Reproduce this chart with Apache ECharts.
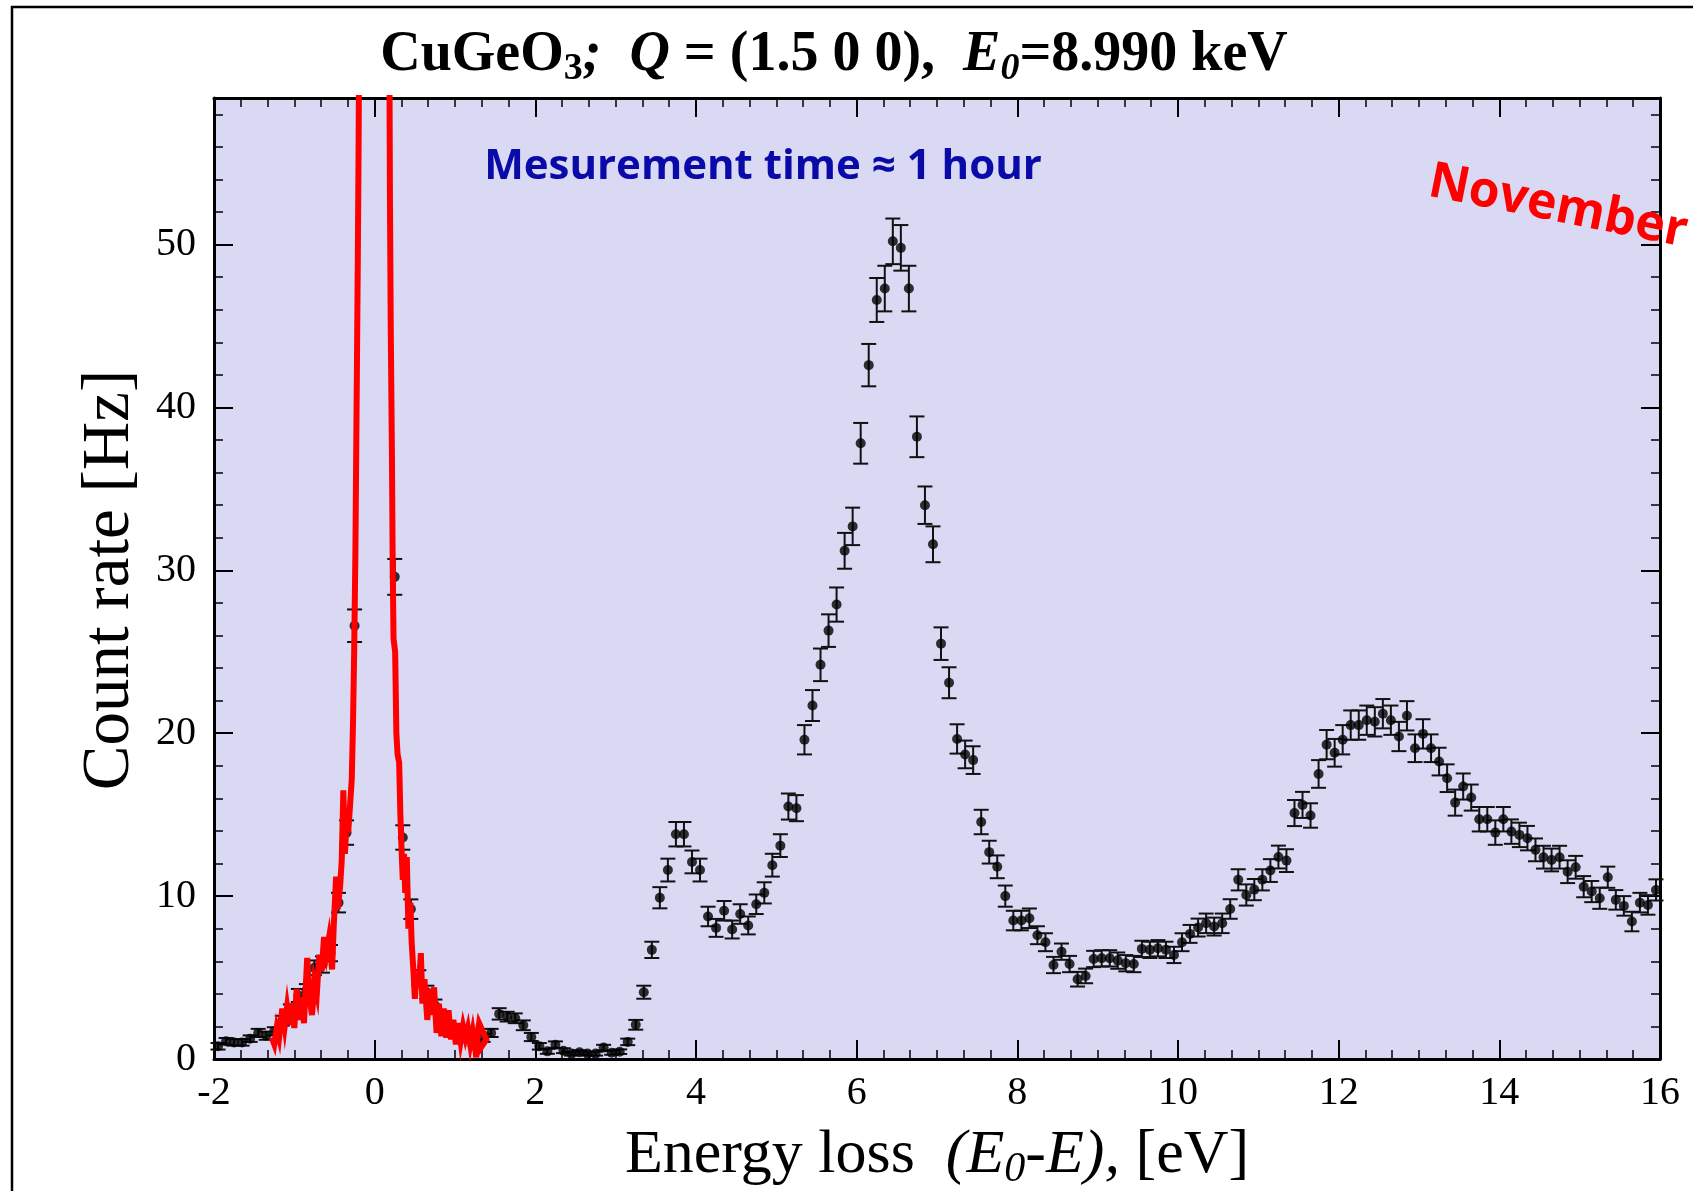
<!DOCTYPE html>
<html>
<head>
<meta charset="UTF-8">
<script src="https://cdn.jsdelivr.net/npm/echarts@6/dist/echarts.min.js"></script>
<style>
  html, body { margin: 0; padding: 0; background: #fff; }
  #chart { width: 1693px; height: 1191px; }
</style>
</head>
<body>
<div id="chart"></div>
<script>
// energy loss grid of the measured points, eV
var energy = [
  -1.95,-1.85,-1.75,-1.65,-1.55,-1.45,-1.35,-1.25,-1.15,-1.05,
  -0.95,-0.85,-0.75,-0.65,-0.55,-0.45,-0.35,-0.25,-0.15,-0.05,
  0.05,0.15,0.25,0.35,0.45,0.55,0.65,0.75,0.85,0.95,
  1.05,1.15,1.25,1.35,1.45,1.55,1.65,1.75,1.85,1.95,
  2.05,2.15,2.25,2.35,2.45,2.55,2.65,2.75,2.85,2.95,
  3.05,3.15,3.25,3.35,3.45,3.55,3.65,3.75,3.85,3.95,
  4.05,4.15,4.25,4.35,4.45,4.55,4.65,4.75,4.85,4.95,
  5.05,5.15,5.25,5.35,5.45,5.55,5.65,5.75,5.85,5.95,
  6.05,6.15,6.25,6.35,6.45,6.55,6.65,6.75,6.85,6.95,
  7.05,7.15,7.25,7.35,7.45,7.55,7.65,7.75,7.85,7.95,
  8.05,8.15,8.25,8.35,8.45,8.55,8.65,8.75,8.85,8.95,
  9.05,9.15,9.25,9.35,9.45,9.55,9.65,9.75,9.85,9.95,
  10.05,10.15,10.25,10.35,10.45,10.55,10.65,10.75,10.85,10.95,
  11.05,11.15,11.25,11.35,11.45,11.55,11.65,11.75,11.85,11.95,
  12.05,12.15,12.25,12.35,12.45,12.55,12.65,12.75,12.85,12.95,
  13.05,13.15,13.25,13.35,13.45,13.55,13.65,13.75,13.85,13.95,
  14.05,14.15,14.25,14.35,14.45,14.55,14.65,14.75,14.85,14.95,
  15.05,15.15,15.25,15.35,15.45,15.55,15.65,15.75,15.85,15.95
];
// count rate, Hz (null = off scale, inside the elastic line)
var rate = [
  0.78,1.09,1.02,1.02,1.25,1.6,1.43,1.7,2.35,3.0,
  3.9,4.2,5.6,5.8,6.5,9.6,13.9,26.6,null,null,
  null,null,29.6,13.6,9.2,5.0,4.1,3.3,2.4,1.8,
  1.7,1.3,1.0,1.3,1.6,2.77,2.6,2.5,2.07,1.35,
  0.78,0.47,0.88,0.51,0.33,0.41,0.33,0.33,0.7,0.38,
  0.45,1.05,2.1,4.1,6.7,9.9,11.6,13.8,13.8,12.1,
  11.6,8.75,8.05,9.1,7.95,8.9,8.2,9.5,10.2,11.9,
  13.1,15.5,15.4,19.6,21.7,24.2,26.3,27.9,31.2,32.7,
  37.8,42.6,46.6,47.3,50.2,49.8,47.3,38.2,34.0,31.6,
  25.5,23.1,19.65,18.7,18.35,14.55,12.7,11.8,10.0,8.5,
  8.5,8.64,7.6,7.17,5.77,6.59,5.83,4.9,5.1,6.14,
  6.18,6.18,6.04,5.88,5.83,6.76,6.7,6.8,6.7,6.39,
  7.17,7.68,8.07,8.33,8.13,8.33,9.21,11.0,10.07,10.4,
  11.0,11.57,12.4,12.18,15.1,15.6,14.95,17.5,19.3,18.8,
  19.6,20.5,20.5,20.8,20.7,21.2,20.8,19.8,21.07,19.08,
  19.96,19.08,18.26,17.24,15.74,16.73,16.05,14.72,14.72,13.9,
  14.72,13.96,13.76,13.56,12.84,12.39,12.22,12.39,11.5,11.77,
  10.58,10.28,9.87,11.16,9.77,9.4,8.44,9.6,9.46,10.38
];
// half length of the error bars, Hz
var rateErr = [
  0.2,0.2,0.2,0.2,0.2,0.25,0.25,0.25,0.3,0.35,
  0.4,0.4,0.45,0.5,0.5,0.6,0.75,1.0,null,null,
  null,null,1.1,0.75,0.6,0.45,0.4,0.35,0.3,0.25,
  0.25,0.25,0.2,0.25,0.25,0.35,0.3,0.3,0.3,0.25,
  0.2,0.15,0.2,0.15,0.12,0.13,0.12,0.12,0.17,0.12,
  0.14,0.2,0.3,0.4,0.5,0.65,0.7,0.75,0.75,0.7,
  0.7,0.6,0.55,0.6,0.55,0.6,0.55,0.6,0.65,0.7,
  0.7,0.8,0.8,0.9,0.95,1.0,1.0,1.05,1.1,1.15,
  1.25,1.3,1.35,1.4,1.4,1.4,1.4,1.25,1.15,1.1,
  1.0,0.95,0.9,0.85,0.85,0.75,0.7,0.7,0.65,0.6,
  0.6,0.6,0.55,0.55,0.5,0.5,0.5,0.45,0.45,0.5,
  0.5,0.5,0.5,0.5,0.5,0.5,0.5,0.5,0.5,0.5,
  0.55,0.55,0.55,0.6,0.55,0.6,0.6,0.65,0.65,0.65,
  0.65,0.7,0.7,0.7,0.8,0.8,0.75,0.85,0.9,0.85,
  0.9,0.9,0.9,0.9,0.9,0.9,0.9,0.9,0.9,0.85,
  0.9,0.85,0.85,0.85,0.8,0.8,0.8,0.75,0.75,0.75,
  0.75,0.75,0.75,0.75,0.7,0.7,0.7,0.7,0.7,0.7,
  0.65,0.65,0.65,0.65,0.6,0.6,0.6,0.6,0.6,0.65
];
// elastic line scan (red)
var elasticE = [
  -1.28,-1.25,-1.22,-1.19,-1.15,-1.12,-1.09,-1.06,-1.03,-1.00,
  -0.97,-0.94,-0.91,-0.88,-0.84,-0.81,-0.78,-0.75,-0.72,-0.69,
  -0.66,-0.63,-0.60,-0.57,-0.53,-0.51,-0.48,-0.46,-0.43,-0.41,
  -0.39,-0.37,-0.35,-0.33,-0.31,-0.285,-0.27,-0.255,-0.24,-0.23,
  -0.22,-0.21,-0.20,-0.19,
  0.18,0.19,0.20,0.215,0.225,0.235,0.255,0.27,0.285,0.305,
  0.32,0.335,0.35,0.365,0.38,0.40,0.42,0.445,0.46,0.485,
  0.50,0.525,0.55,0.575,0.595,0.62,0.655,0.685,0.71,0.74,
  0.77,0.80,0.83,0.86,0.89,0.92,0.95,0.98,1.01,1.04,
  1.07,1.10,1.13,1.16,1.19,1.22,1.245,1.265,1.285,1.30,
  1.39,1.31,1.28
];
var elasticRate = [
  1.3,0.9,1.9,1.3,3.1,2.0,3.2,2.1,3.4,1.9,
  4.3,2.4,3.8,2.2,6.2,3.8,2.7,4.7,4.0,6.4,
  5.4,7.5,6.5,7.4,5.5,8.1,11.2,9.2,10.6,12.2,
  16.5,12.6,14.6,13.9,15.3,17.2,20.5,25,31,37,
  43,49,56,66,
  66,53,45,37,30,25.8,25.0,20,18.7,18.2,
  15,12.8,11.0,12.6,10.2,12.4,8.0,9.6,7.2,5.2,
  3.7,5.3,4.4,6.5,3.4,4.9,2.4,4.3,2.7,4.4,
  1.6,3.4,1.4,3.1,1.3,3.0,1.2,2.4,0.9,2.2,
  1.1,2.0,1.3,1.9,0.9,1.7,0.9,0.1,1.7,2.2,
  1.2,0.6,1.0
];

var serif = '"Liberation Serif", "DejaVu Serif", serif';
var sans = '"Open Sans", "DejaVu Sans", sans-serif';

var points = [], bars = [], elastic = [];
for (var i = 0; i < energy.length; i++) {
    if (rate[i] == null) continue;
    points.push([energy[i], rate[i]]);
    bars.push([energy[i], rate[i] - rateErr[i], rate[i] + rateErr[i]]);
}
for (var j = 0; j < elasticE.length; j++) {
    elastic.push([elasticE[j], elasticRate[j]]);
}

function xAxisOpt(pos, labels) {
    return {
        type: 'value', position: pos, min: -2, max: 16, interval: 2,
        axisLine: { onZero: false, lineStyle: { color: '#000', width: 3 } },
        axisTick: { inside: true, length: 19, lineStyle: { color: '#000', width: 2 } },
        minorTick: { show: true, splitNumber: 6, length: 9, lineStyle: { color: '#000', width: 1.5 } },
        splitLine: { show: false },
        axisLabel: { show: labels, margin: 14, color: '#000', fontFamily: serif, fontSize: 40 }
    };
}
function yAxisOpt(pos, labels, step, tickLen) {
    return {
        type: 'value', position: pos, min: 0, max: 59, interval: step,
        axisLine: { show: step === 10, onZero: false, lineStyle: { color: '#000', width: 3 } },
        axisTick: { inside: true, length: tickLen, lineStyle: { color: '#000', width: step === 10 ? 2 : 1.5 } },
        splitLine: { show: false },
        axisLabel: {
            show: labels, margin: 18, color: '#000', fontFamily: serif, fontSize: 40,
            formatter: function (v) { return v % 10 === 0 ? String(v) : ''; }
        }
    };
}

var chart = echarts.init(document.getElementById('chart'));
chart.setOption({
    animation: false,
    backgroundColor: '#fff',
    grid: {
        left: 214, right: 33, top: 98, bottom: 132,
        show: true, backgroundColor: '#d9d9f3', borderWidth: 0
    },
    xAxis: [xAxisOpt('bottom', true), xAxisOpt('top', false)],
    yAxis: [
        yAxisOpt('left', true, 10, 19),
        yAxisOpt('right', false, 10, 19),
        yAxisOpt('left', false, 2, 9),
        yAxisOpt('right', false, 2, 9)
    ],
    series: [
        {
            type: 'custom',
            xAxisIndex: 0, yAxisIndex: 0,
            z: 2,
            encode: { x: 0, y: [1, 2] },
            data: bars,
            renderItem: function (params, api) {
                var x = api.value(0);
                var lo = api.coord([x, api.value(1)]);
                var hi = api.coord([x, api.value(2)]);
                var w = 7.5;
                var st = { stroke: '#111', lineWidth: 2 };
                return {
                    type: 'group',
                    children: [
                        { type: 'line', shape: { x1: lo[0], y1: lo[1], x2: hi[0], y2: hi[1] }, style: st },
                        { type: 'line', shape: { x1: lo[0] - w, y1: lo[1], x2: lo[0] + w, y2: lo[1] }, style: st },
                        { type: 'line', shape: { x1: hi[0] - w, y1: hi[1], x2: hi[0] + w, y2: hi[1] }, style: st }
                    ]
                };
            }
        },
        {
            type: 'scatter',
            xAxisIndex: 0, yAxisIndex: 0,
            z: 3,
            symbol: 'circle', symbolSize: 10,
            itemStyle: { color: '#000' },
            data: points
        },
        {
            type: 'line',
            xAxisIndex: 0, yAxisIndex: 0,
            z: 4,
            showSymbol: false,
            clip: true,
            lineStyle: { color: '#ff0000', width: 6, join: 'miter', miterLimit: 8 },
            data: elastic
        }
    ],
    graphic: [
        {
            type: 'polyline', silent: true,
            shape: { points: [[12, 1191], [12, 7], [1693, 7]] },
            style: { stroke: '#000', lineWidth: 2.5, fill: null }
        },
        {
            type: 'text', x: 834, y: 56, z: 10,
            style: {
                text: '{b|CuGeO}{bs|3}{bi|;}{b|  }{bi|Q}{b| = (1.5 0 0),  }{bi|E}{bis|0}{b|=8.990 keV}',
                align: 'center', verticalAlign: 'middle',
                rich: {
                    b: { fontFamily: serif, fontWeight: 'bold', fontSize: 56, lineHeight: 64, fill: '#000' },
                    bi: { fontFamily: serif, fontWeight: 'bold', fontStyle: 'italic', fontSize: 56, lineHeight: 64, fill: '#000' },
                    bs: { fontFamily: serif, fontWeight: 'bold', fontSize: 38, lineHeight: 30, verticalAlign: 'bottom', fill: '#000' },
                    bis: { fontFamily: serif, fontWeight: 'bold', fontStyle: 'italic', fontSize: 38, lineHeight: 30, verticalAlign: 'bottom', fill: '#000' }
                }
            }
        },
        {
            type: 'text', x: 110, y: 580, rotation: Math.PI / 2, z: 10,
            style: {
                text: 'Count rate [Hz]', fill: '#000',
                fontFamily: serif, fontSize: 67,
                align: 'center', verticalAlign: 'middle'
            }
        },
        {
            type: 'text', x: 937, y: 1156, z: 10,
            style: {
                text: '{r|Energy loss  }{ri|(E}{ris|0}{ri|-E),}{r| [eV]}',
                align: 'center', verticalAlign: 'middle',
                rich: {
                    r: { fontFamily: serif, fontSize: 62, lineHeight: 70, fill: '#000' },
                    ri: { fontFamily: serif, fontStyle: 'italic', fontSize: 62, lineHeight: 70, fill: '#000' },
                    ris: { fontFamily: serif, fontStyle: 'italic', fontSize: 42, lineHeight: 34, verticalAlign: 'bottom', fill: '#000' }
                }
            }
        },
        {
            type: 'text', x: 763, y: 167, z: 10,
            style: {
                text: 'Mesurement time \u2248 1 hour', fill: '#0a0aa8',
                fontFamily: sans, fontWeight: 'bold', fontSize: 42,
                align: 'center', verticalAlign: 'middle'
            }
        },
        {
            type: 'text', x: 1558, y: 207, rotation: -0.197, z: 10,
            style: {
                text: 'November', fill: '#ff0000',
                fontFamily: sans, fontWeight: 'bold', fontSize: 50,
                align: 'center', verticalAlign: 'middle'
            }
        }
    ]
});
</script>
</body>
</html>
